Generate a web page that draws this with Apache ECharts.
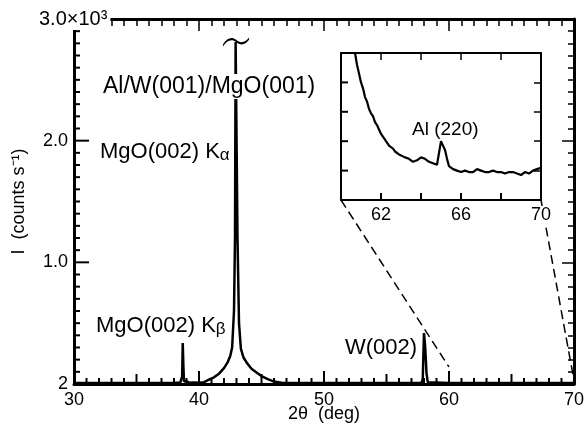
<!DOCTYPE html>
<html>
<head>
<meta charset="utf-8">
<script src="https://cdn.jsdelivr.net/npm/echarts/dist/echarts.min.js"></script>
<style>
  html, body { margin: 0; padding: 0; background: #fff; }
  #chart { width: 587px; height: 435px; }
</style>
</head>
<body>
<div id="chart"></div>
<script>
// main scan: 2θ (deg) and intensity (counts/s)
const mainTheta = [30, 35, 38.0, 38.5, 38.6, 38.65, 38.7, 38.75, 38.8, 38.9, 39.0, 39.2, 39.6, 40.0,
  40.4, 40.8, 41.2, 41.6, 42.0, 42.3, 42.5, 42.65, 42.8, 42.88, 42.93, 43.0, 43.08, 43.2, 43.35,
  43.55, 43.85, 44.2, 44.6, 45.0, 45.5, 46.0, 46.6, 50, 55, 57.8, 57.9, 58.0, 58.1, 58.2, 58.3, 60, 65, 70];
const mainCounts = [8, 8, 10, 12, 15, 60, 337, 150, 20, 12, 25, 10, 12, 10,
  15, 35, 55, 85, 130, 180, 230, 300, 600, 1200, 2810, 2810, 1200, 500, 290,
  220, 170, 125, 95, 65, 40, 20, 10, 8, 8, 10, 40, 419, 300, 90, 15, 8, 8, 8];

// inset: 60-70 deg, arbitrary linear units
const insetTheta = [60.6, 60.7, 60.8, 60.9, 61.0, 61.1, 61.2, 61.3, 61.4, 61.5, 61.6, 61.7, 61.8, 61.9,
  62.0, 62.1, 62.2, 62.3, 62.4, 62.5, 62.6, 62.7, 62.8, 62.9, 63.0, 63.2, 63.4, 63.6, 63.8, 64.0,
  64.1, 64.2, 64.4, 64.6, 64.8, 64.9, 65.0, 65.1, 65.2, 65.3, 65.4, 65.6, 65.8, 66.0, 66.2, 66.4,
  66.6, 66.8, 66.9, 67.0, 67.2, 67.4, 67.6, 67.8, 68.0, 68.2, 68.4, 68.6, 68.8, 69.0, 69.2, 69.4,
  69.6, 69.8, 70.0];
const insetCounts = [108, 100, 92, 86, 80, 76, 70, 67, 62, 59, 57, 53, 51, 48,
  45, 44, 41, 40, 37, 38, 35, 33, 34, 31, 31, 29, 28, 26, 27, 29,
  30, 28, 26, 25, 24, 24, 40, 37, 34, 28, 23, 21, 20, 19, 20, 19,
  19, 21, 22, 20, 19, 19, 20, 19, 19, 18, 19, 19, 18, 17, 19, 18,
  20, 21, 22];

const insetXLabels = [62, 66, 70];
const yLabels = { 0: '2', 1000: '1.0', 2000: '2.0', 3000: '' };

// leader lines: inset bottom corners (inset coords) -> points on main axes
const insetCorners = [[60, 0], [70, 0]];
const leaderEnds = [[60, 140], [70, 30]];

// tick positions for the bottom/left edges (drawn by custom series)
const mainXTicks = [];
for (let v = 30; v <= 70; v += 1) mainXTicks.push(v);
const mainYTicks = [];
for (let v = 0; v <= 3000; v += 100) mainYTicks.push(v);
const insetXTicks = [60, 62, 64, 66, 68, 70];
const insetYTicks = [0, 20, 40, 60, 80, 100];

const FONT = 'Liberation Sans';
const tilde = 'path://M0,7 C4,1 9,0 13,3 C17,6 22,6 26,1 L26,3 C22,8 17,8 13,5 C9,2 4,3 0,9 Z';

function ticks(len) {
  return { show: true, inside: true, length: len, lineStyle: { color: '#000', width: 1.5 } };
}
function minor(len, n) {
  return { show: true, splitNumber: n, length: len, lineStyle: { color: '#000', width: 1.5 } };
}
function line(w) {
  return { show: true, onZero: false, lineStyle: { color: '#000', width: w } };
}
const off = { show: false };

// vertical tick marks standing on y = yBase
function xTickSeries(xi, yi, values, yBase, lenFn) {
  return {
    type: 'custom', coordinateSystem: 'cartesian2d', xAxisIndex: xi, yAxisIndex: yi,
    silent: true, z: 5, clip: false,
    data: values.map(v => [v, yBase]),
    renderItem: (params, api) => {
      const v = api.value(0);
      const p = api.coord([v, api.value(1)]);
      return { type: 'line', shape: { x1: p[0], y1: p[1], x2: p[0], y2: p[1] - lenFn(v) },
        style: { stroke: '#000', lineWidth: 2 } };
    }
  };
}
// horizontal tick marks starting at x = xBase
function yTickSeries(xi, yi, values, xBase, lenFn) {
  return {
    type: 'custom', coordinateSystem: 'cartesian2d', xAxisIndex: xi, yAxisIndex: yi,
    silent: true, z: 5, clip: false,
    data: values.map(v => [xBase, v]),
    renderItem: (params, api) => {
      const v = api.value(1);
      const p = api.coord([api.value(0), v]);
      return { type: 'line', shape: { x1: p[0], y1: p[1], x2: p[0] + lenFn(v), y2: p[1] },
        style: { stroke: '#000', lineWidth: 2 } };
    }
  };
}

const chart = echarts.init(document.getElementById('chart'));

const option = {
  animation: false,
  backgroundColor: '#fff',
  grid: [
    { left: 74, right: 10, top: 19, bottom: 51 },
    { left: 341, right: 46, top: 53, bottom: 235 }
  ],
  xAxis: [
    { gridIndex: 0, type: 'value', min: 30, max: 70, interval: 10, position: 'bottom',
      name: '2θ  (deg)', nameLocation: 'middle', nameGap: 21, nameMoveOverlap: false,
      nameTextStyle: { fontFamily: FONT, fontSize: 18, color: '#000' },
      axisLine: line(3), axisTick: off,
      axisLabel: { margin: 7, fontFamily: FONT, fontSize: 18, color: '#000' },
      splitLine: off },
    { gridIndex: 0, type: 'value', min: 30, max: 70, interval: 10, position: 'top',
      axisLine: line(3), axisTick: ticks(12), minorTick: minor(7, 10),
      axisLabel: off, splitLine: off },
    { gridIndex: 1, type: 'value', min: 60, max: 70, interval: 2, position: 'bottom', z: 10,
      axisLine: line(2), axisTick: off,
      axisLabel: { margin: 6, fontFamily: FONT, fontSize: 18, color: '#000',
        backgroundColor: '#fff',
        formatter: v => insetXLabels.includes(v) ? String(v) : '' },
      splitLine: off },
    { gridIndex: 1, type: 'value', min: 60, max: 70, interval: 2, position: 'top',
      axisLine: line(2), axisTick: ticks(7),
      axisLabel: off, splitLine: off }
  ],
  yAxis: [
    { gridIndex: 0, type: 'value', min: 0, max: 3000, interval: 1000, position: 'left',
      name: 'I  (counts s⁻¹)', nameLocation: 'middle', nameGap: 46, nameMoveOverlap: false,
      nameTextStyle: { fontFamily: FONT, fontSize: 18, color: '#000' },
      axisLine: line(3), axisTick: off,
      axisLabel: { margin: 6, fontFamily: FONT, fontSize: 18, color: '#000',
        formatter: v => yLabels[v] },
      splitLine: off },
    { gridIndex: 0, type: 'value', min: 0, max: 3000, interval: 1000, position: 'right',
      axisLine: line(3), axisTick: ticks(12), minorTick: minor(6, 10),
      axisLabel: off, splitLine: off },
    { gridIndex: 1, type: 'value', min: 0, max: 100, interval: 20, position: 'left',
      axisLine: line(2), axisTick: off, axisLabel: off, splitLine: off },
    { gridIndex: 1, type: 'value', min: 0, max: 100, interval: 20, position: 'right',
      axisLine: line(2), axisTick: ticks(7), axisLabel: off, splitLine: off }
  ],
  series: [
    { id: 'scan', type: 'line', xAxisIndex: 0, yAxisIndex: 0, symbol: 'none',
      data: mainTheta.map((t, i) => [t, mainCounts[i]]),
      lineStyle: { color: '#000', width: 2.5 },
      markPoint: {
        symbol: tilde, symbolSize: [26, 9], symbolOffset: [0, 0],
        itemStyle: { color: '#000' }, label: { show: false },
        data: [{ coord: [42.965, 2810] }]
      } },
    { id: 'inset', type: 'line', xAxisIndex: 2, yAxisIndex: 2, symbol: 'none',
      data: insetTheta.map((t, i) => [t, insetCounts[i]]),
      lineStyle: { color: '#000', width: 2.2 } },
    { id: 'leaderL', type: 'line', xAxisIndex: 0, yAxisIndex: 0, symbol: 'none', z: 1,
      data: [], lineStyle: { color: '#000', width: 1.5, type: [9, 5] } },
    { id: 'leaderR', type: 'line', xAxisIndex: 0, yAxisIndex: 0, symbol: 'none', z: 1,
      data: [], lineStyle: { color: '#000', width: 1.5, type: [9, 5] } },
    xTickSeries(0, 0, mainXTicks, 0, v => v % 10 === 0 ? 13 : (v % 5 === 0 ? 10 : 6)),
    yTickSeries(0, 0, mainYTicks, 30, v => v % 1000 === 0 ? 15 : 6),
    xTickSeries(2, 2, insetXTicks, 0, () => 7),
    yTickSeries(2, 2, insetYTicks, 60, () => 7)
  ],
  graphic: [
    { type: 'text', left: 37, top: 7, z: 100,
      style: { text: '3.0×10³', fontFamily: FONT, fontSize: 20, fill: '#000',
        backgroundColor: '#fff', padding: [2, 3, 1, 2] } },
    { type: 'text', left: 102, top: 74, z: 100,
      style: { text: 'Al/W(001)/MgO(001)', fontFamily: FONT, fontSize: 23, fill: '#000',
        backgroundColor: '#fff', padding: [1, 1] } },
    { type: 'text', left: 100, top: 141, z: 100,
      style: { text: '{a|MgO(002) K}{b|α}', fill: '#000',
        rich: { a: { fontFamily: FONT, fontSize: 22, color: '#000' },
                b: { fontFamily: FONT, fontSize: 17, color: '#000', padding: [6, 0, 0, 0] } } } },
    { type: 'text', left: 96, top: 315, z: 100,
      style: { text: '{a|MgO(002) K}{b|β}', fill: '#000',
        rich: { a: { fontFamily: FONT, fontSize: 22, color: '#000' },
                b: { fontFamily: FONT, fontSize: 17, color: '#000', padding: [6, 0, 0, 0] } } } },
    { type: 'text', left: 345, top: 337, z: 100,
      style: { text: 'W(002)', fontFamily: FONT, fontSize: 22, fill: '#000' } },
    { type: 'text', left: 412, top: 120, z: 100,
      style: { text: 'Al (220)', fontFamily: FONT, fontSize: 19, fill: '#000' } }
  ]
};

chart.setOption(option);

// leader lines start at the inset's bottom corners, mapped into the main axes
const starts = insetCorners.map(c =>
  chart.convertFromPixel({ xAxisIndex: 0, yAxisIndex: 0 },
    chart.convertToPixel({ xAxisIndex: 2, yAxisIndex: 2 }, c)));
chart.setOption({
  series: [
    { id: 'leaderL', data: [starts[0], leaderEnds[0]] },
    { id: 'leaderR', data: [starts[1], leaderEnds[1]] }
  ]
});
</script>
</body>
</html>
